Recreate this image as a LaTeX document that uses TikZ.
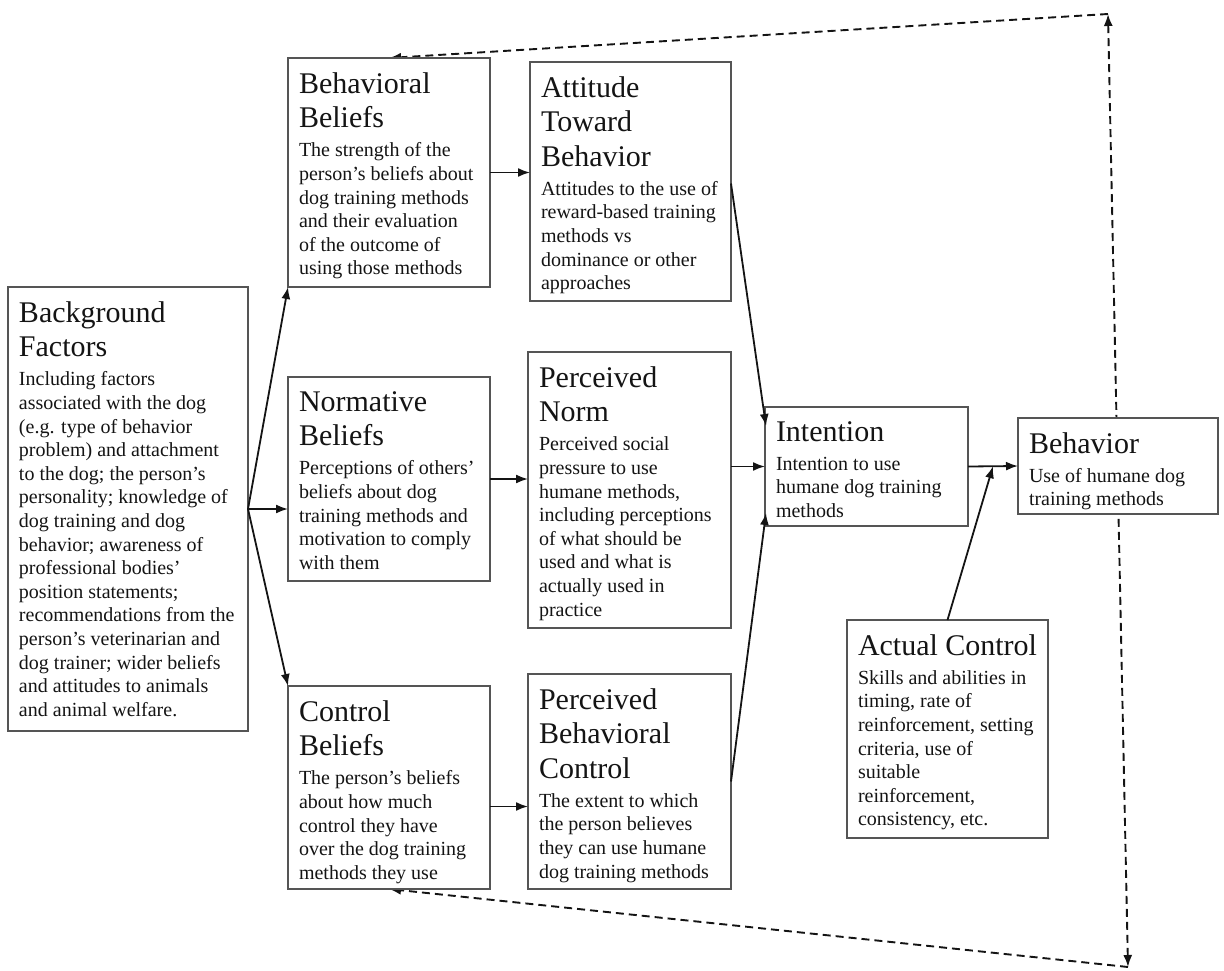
\documentclass[tikz,border=0pt]{standalone}
\usepackage{fontspec}
\setmainfont{Liberation Serif}
\usetikzlibrary{arrows.meta,calc,backgrounds}
\definecolor{boxline}{RGB}{85,85,85}
\definecolor{ink}{RGB}{20,20,20}
\newcommand{\tfont}{\fontsize{30}{34.5}\selectfont}
\newcommand{\bfontx}{\fontsize{20}{23.6}\selectfont}
\newcommand{\boxcontent}[4]{\parbox[c][#2pt][t]{#1pt}{\raggedright\vspace*{14.5pt}\tfont #3\par\vspace{5.4pt}\bfontx #4\par}}
\tikzset{
  box/.style={draw=boxline, line width=1.7pt, fill=white, inner xsep=11pt, inner ysep=0pt, outer sep=0pt, anchor=north west, text=ink},
  tip/.tip={Latex[length=12pt,width=9pt]},
  arr/.style={draw=ink, line width=1.8pt, -tip},
  dsh/.style={draw=ink, line width=1.9pt, dash pattern=on 8pt off 5pt},
}
\begin{document}
\begin{tikzpicture}[x=1pt,y=-1pt]
\useasboundingbox (0,0) rectangle (1224,971);

\node[box] (bf) at (8,287) {\boxcontent{218}{444}{Background\\Factors}{Including factors\\associated with the dog\\(e.g. type of behavior\\problem) and attachment\\to the dog; the person’s\\personality; knowledge of\\dog training and dog\\behavior; awareness of\\professional bodies’\\position statements;\\recommendations from the\\person’s veterinarian and\\dog trainer; wider beliefs\\and attitudes to animals\\and animal welfare.}};

\node[box] (bb) at (288,58) {\boxcontent{180}{229}{Behavioral\\Beliefs}{The strength of the\\person’s beliefs about\\dog training methods\\and their evaluation\\of the outcome of\\using those methods}};

\node[box] (atb) at (530,62) {\boxcontent{179}{239}{Attitude\\Toward\\Behavior}{Attitudes to the use of\\reward-based training\\methods vs\\dominance or other\\approaches}};

\node[box] (nb) at (288,377) {\boxcontent{180}{204}{Normative\\Beliefs}{Perceptions of others’\\beliefs about dog\\training methods and\\motivation to comply\\with them}};

\node[box] (pn) at (528,352) {\boxcontent{181}{276}{Perceived\\Norm}{Perceived social\\pressure to use\\humane methods,\\including perceptions\\of what should be\\used and what is\\actually used in\\practice}};

\node[box] (cb) at (288,686) {\boxcontent{180}{203}{Control\\Beliefs}{The person’s beliefs\\about how much\\control they have\\over the dog training\\methods they use}};

\node[box] (pbc) at (528,674) {\boxcontent{181}{215}{Perceived\\Behavioral\\Control}{The extent to which\\the person believes\\they can use humane\\dog training methods}};

\node[box] (int) at (765,407) {\boxcontent{181}{119}{Intention}{Intention to use\\humane dog training\\methods}};

\node[box] (beh) at (1018,418) {\boxcontent{178}{96}{Behavior}{Use of humane dog\\training methods}};

\node[box] (ac) at (847,620) {\boxcontent{179}{218}{Actual Control}{Skills and abilities in\\timing, rate of\\reinforcement, setting\\criteria, use of\\suitable\\reinforcement,\\consistency, etc.}};

% dashed feedback lines
\coordinate (ctop) at (1108,14);
\coordinate (cbot) at (1128,967);
\begin{scope}[on background layer]
\draw[dsh, -tip] (ctop) -- (bb.north);
\draw[dsh, tip-tip] (ctop) -- (cbot);
\draw[dsh, -tip] (cbot) -- (cb.south);
\end{scope}

% solid arrows
\draw[arr] (bf.east) -- (bb.south west);
\draw[arr] (bf.east) -- (bf.east -| nb.west);
\draw[arr] (bf.east) -- (cb.north west);
\draw[arr] (bb.east) -- (bb.east -| atb.west);
\draw[arr] (nb.east) -- (nb.east -| pn.west);
\draw[arr] ([yshift=-19pt]cb.east) -- ([yshift=-19pt]cb.east -| pbc.west);
\draw[arr] ([yshift=-2pt]atb.east) -- ([shift={(1pt,-19pt)}]int.north west);
\draw[arr] (int.west -| pn.east) -- (int.west);
\draw[arr] (pbc.east) -- ([shift={(1pt,13pt)}]int.south west);
\draw[arr] (int.east) -- (beh.west);
\coordinate (j) at ($(int.east)!0.5!(beh.west)$);
\draw[arr] (ac.north) -- (j);
\end{tikzpicture}
\end{document}
